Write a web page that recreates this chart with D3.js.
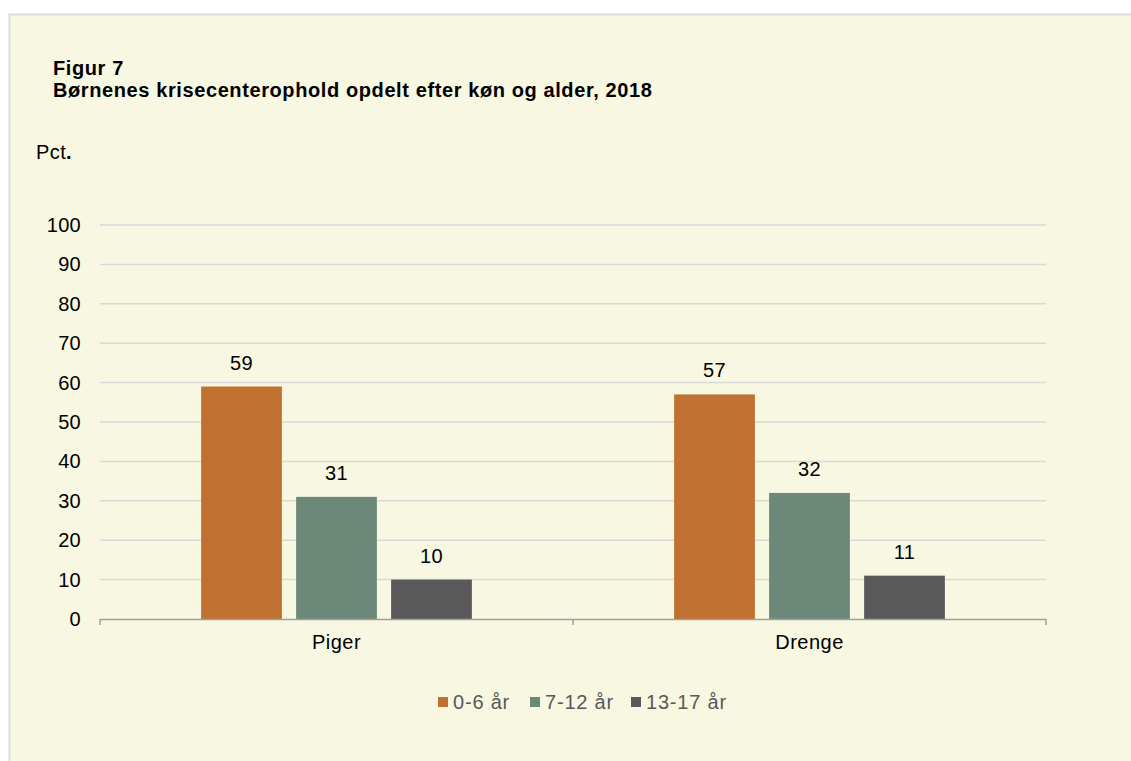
<!DOCTYPE html>
<html>
<head>
<meta charset="utf-8">
<script src="https://cdn.jsdelivr.net/npm/d3@7"></script>
<style>
  body { margin: 0; background: #fff; }
  svg { display: block; font-family: "Liberation Sans", Arial, sans-serif; }
</style>
</head>
<body>
<div id="chart"></div>
<script>
const groups = ["Piger", "Drenge"];
const series = ["0-6 år", "7-12 år", "13-17 år"];
const values = {
    "Piger": [59, 31, 10],
    "Drenge": [57, 32, 11]
};
const colors = ["#c07030", "#6b8878", "#595959"];
const yTicks = [0, 10, 20, 30, 40, 50, 60, 70, 80, 90, 100];

const width = 1131;
const height = 761;
const margin = { top: 225, right: 85, bottom: 142, left: 100 };

const svg = d3.select("#chart")
    .append("svg")
    .attr("width", width)
    .attr("height", height);

// panel background
svg.append("rect")
    .attr("x", 9.5)
    .attr("y", 14.5)
    .attr("width", width)
    .attr("height", height)
    .style("fill", "#f8f7e1")
    .style("stroke", "#dcdcdc")
    .style("stroke-width", 2);

// Title
svg.append("text")
    .attr("x", 53)
    .attr("y", 75)
    .style("font-size", "20px")
    .style("font-weight", "bold")
    .style("letter-spacing", "0.6px")
    .style("fill", "#000")
    .text("Figur 7");
svg.append("text")
    .attr("x", 53)
    .attr("y", 97)
    .style("font-size", "20px")
    .style("font-weight", "bold")
    .style("letter-spacing", "0.6px")
    .style("fill", "#000")
    .text("Børnenes krisecenterophold opdelt efter køn og alder, 2018");

svg.append("text")
    .attr("x", 36)
    .attr("y", 159)
    .style("font-size", "20px")
    .style("letter-spacing", "0.4px")
    .style("fill", "#000")
    .html("Pct<tspan font-weight='bold'>.</tspan>");

const x0 = d3.scaleBand()
    .domain(groups)
    .range([margin.left, width - margin.right])
    .padding(0);

const groupPad = 94;
const x1 = d3.scaleBand()
    .domain(series)
    .range([groupPad, x0.bandwidth() - groupPad])
    .paddingInner(0.15)
    .paddingOuter(0.075);

const y = d3.scaleLinear()
    .domain([0, 100])
    .range([height - margin.bottom, margin.top]);

// gridlines
svg.append("g")
    .selectAll("line")
    .data(yTicks.filter(d => d > 0))
    .enter()
    .append("line")
    .attr("x1", margin.left)
    .attr("x2", width - margin.right)
    .attr("y1", d => y(d))
    .attr("y2", d => y(d))
    .style("stroke", "#d9d9d9")
    .style("stroke-width", 1.5);

// y tick labels
svg.append("g")
    .selectAll("text")
    .data(yTicks)
    .enter()
    .append("text")
    .attr("x", 81)
    .attr("y", d => y(d))
    .attr("dy", "0.35em")
    .attr("text-anchor", "end")
    .style("font-size", "20px")
    .style("letter-spacing", "0.3px")
    .style("fill", "#000")
    .text(d => d);

// bars
const gGroups = svg.selectAll("g.grp")
    .data(groups)
    .enter()
    .append("g")
    .attr("class", "grp")
    .attr("transform", d => `translate(${x0(d)},0)`);

gGroups.selectAll("rect")
    .data(g => values[g].map((v, i) => ({ s: series[i], v: v, i: i })))
    .enter()
    .append("rect")
    .attr("x", d => x1(d.s))
    .attr("y", d => y(d.v))
    .attr("width", x1.bandwidth())
    .attr("height", d => y(0) - y(d.v))
    .style("fill", d => colors[d.i]);

gGroups.selectAll("text.val")
    .data(g => values[g].map((v, i) => ({ s: series[i], v: v })))
    .enter()
    .append("text")
    .attr("class", "val")
    .attr("x", d => x1(d.s) + x1.bandwidth() / 2)
    .attr("y", d => y(d.v) - 17)
    .attr("text-anchor", "middle")
    .style("font-size", "20px")
    .style("letter-spacing", "0.3px")
    .style("fill", "#000")
    .text(d => d.v);

// x axis
const xAxis = svg.append("g");
xAxis.append("line")
    .attr("x1", margin.left)
    .attr("x2", width - margin.right)
    .attr("y1", y(0) + 0.5)
    .attr("y2", y(0) + 0.5)
    .style("stroke", "#a0a0a0")
    .style("stroke-width", 1.5);
const edges = groups.map(g => x0(g)).concat([x0(groups[groups.length - 1]) + x0.bandwidth()]);
xAxis.selectAll("line.tick")
    .data(edges)
    .enter()
    .append("line")
    .attr("class", "tick")
    .attr("x1", d => d)
    .attr("x2", d => d)
    .attr("y1", y(0))
    .attr("y2", y(0) + 6)
    .style("stroke", "#a0a0a0")
    .style("stroke-width", 1.5);
xAxis.selectAll("text")
    .data(groups)
    .enter()
    .append("text")
    .attr("x", d => x0(d) + x0.bandwidth() / 2)
    .attr("y", y(0) + 30)
    .attr("text-anchor", "middle")
    .style("font-size", "20px")
    .style("letter-spacing", "0.5px")
    .style("fill", "#000")
    .text(d => d);

// legend
const legendX = [438, 530, 631];
const legend = svg.append("g")
    .selectAll("g")
    .data(series)
    .enter()
    .append("g")
    .attr("transform", (d, i) => `translate(${legendX[i]},702)`);
legend.append("rect")
    .attr("x", 0)
    .attr("y", -5)
    .attr("width", 10)
    .attr("height", 10)
    .style("fill", (d, i) => colors[i]);
legend.append("text")
    .attr("x", 15)
    .attr("y", 0)
    .attr("dy", "0.35em")
    .style("font-size", "20px")
    .style("letter-spacing", "0.8px")
    .style("fill", "#595959")
    .text(d => d);
</script>
</body>
</html>
